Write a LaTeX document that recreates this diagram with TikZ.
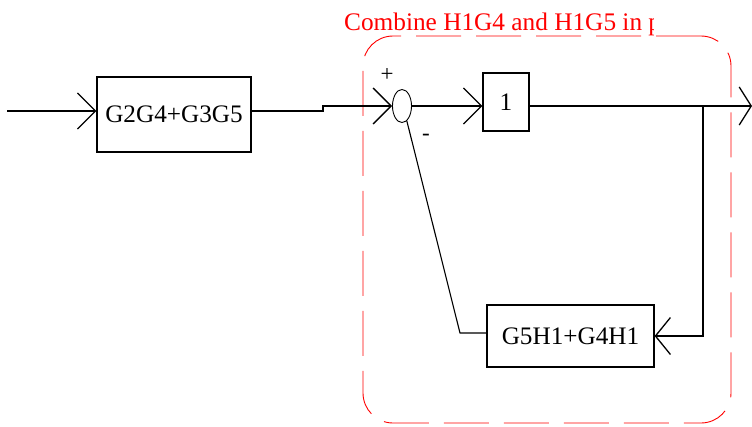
\documentclass[tikz,border=0pt]{standalone}
\usepackage{fontspec}
\setmainfont{Liberation Serif}
\usetikzlibrary{arrows.meta,shapes.geometric}
\begin{document}
\begin{tikzpicture}[x=1pt,y=-1pt,
  blk/.style={draw, line width=1.2pt, inner sep=0pt, font=\fontsize{25.2}{27}\selectfont},
  wire/.style={line width=1.3pt},
  arr/.style={-{Straight Barb[length=18pt,width=36pt]}},
  sgn/.style={font=\fontsize{23}{24}\selectfont, inner sep=0pt}]
\useasboundingbox (0,0) rectangle (752,426);
% group frame
\node[draw=red, line width=0.9pt, dash pattern=on 45pt off 15pt, rounded corners=30pt,
      minimum width=368pt, minimum height=387pt, inner sep=0pt] (grp) at (547,229.5) {};
\begin{scope}
\clip (0,0) rectangle (653,426);
\node[anchor=base west, text=red, inner sep=0pt, font=\fontsize{25.3}{27}\selectfont] (title) at (344,30) {Combine H1G4 and H1G5 in p};
\end{scope}
% blocks
\node[blk, minimum width=154pt, minimum height=75pt] (g1) at (174,114.5) {G2G4+G3G5};
\node[draw, ellipse, line width=0.9pt, minimum width=19pt, minimum height=33pt, inner sep=0pt] (sum) at (402,106) {};
\node[blk, minimum width=46pt, minimum height=58pt] (one) at (506,102) {1};
\node[blk, minimum width=167pt, minimum height=62pt] (fb) at (570.5,336) {G5H1+G4H1};
\node[sgn] (plus) at (387,75) {+};
\node[sgn] (minus) at (426,137) {-};
% points
\coordinate (in) at (7,111);
\coordinate (jog) at (323,111);
\coordinate (br) at (703,106);
\coordinate (out) at (752,106);
\coordinate (bot) at (703,336);
\coordinate (tick) at (460,333);
% connectors
\draw[wire, arr] (in) -- (in -| g1.west);
\draw[wire, arr] (g1.east |- in) -- (jog) -- (jog |- sum) -- (sum.west);
\draw[wire, arr] (sum.east) -- (sum.east -| one.west);
\draw[wire, -{Straight Barb[length=12pt,width=38pt]}] (one.east |- sum) -- (out);
\draw[wire, -{Straight Barb[length=15pt,width=37pt]}] (br) -- (bot) -- (bot -| fb.east);
\draw[line width=1.1pt] (fb.west |- tick) -- (tick) -- (sum.-72);
\end{tikzpicture}
\end{document}
